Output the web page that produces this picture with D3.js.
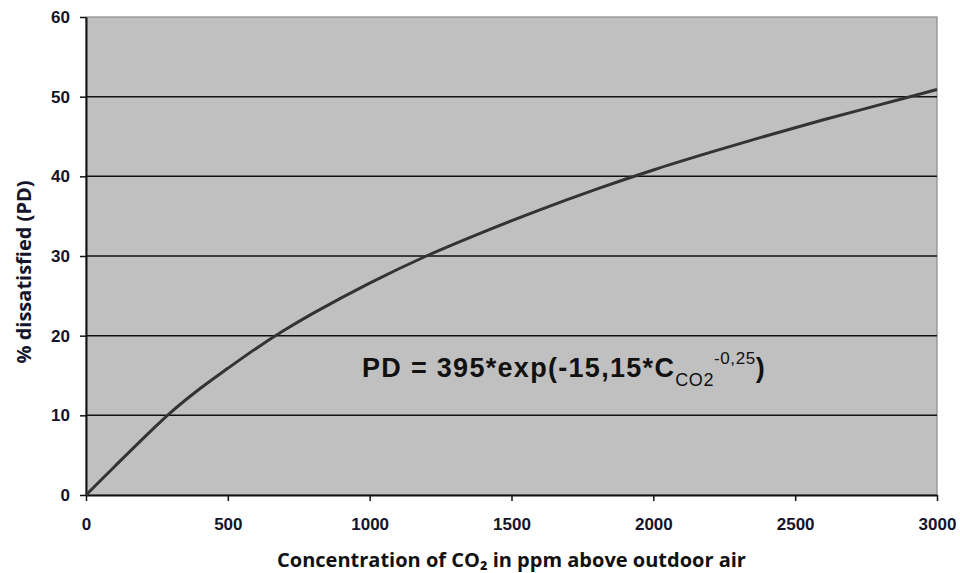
<!DOCTYPE html>
<html>
<head>
<meta charset="utf-8">
<script src="https://cdn.jsdelivr.net/npm/d3@7"></script>
<style>
  body { margin: 0; background: #fff; }
  svg { display: block; }
</style>
</head>
<body>
<div id="chart"></div>
<script>
// --------------------------------------
//  Data
// --------------------------------------

const co2 = [0, 100, 200, 300, 400, 500, 600, 700, 800, 1000, 1200, 1400, 1600, 1800, 2000, 2200, 2400, 2600, 2800, 3000];
const pd  = [0, 3.55, 7.05, 10.4, 13.3, 15.9, 18.4, 20.7, 22.8, 26.6, 30.0, 33.0, 35.8, 38.4, 40.8, 43.0, 45.1, 47.1, 49.0, 50.9];

const xTicks = [0, 500, 1000, 1500, 2000, 2500, 3000];
const yTicks = [0, 10, 20, 30, 40, 50, 60];

const xTitle = "Concentration of CO\u2082 in ppm above outdoor air";
const yTitle = "% dissatisfied (PD)";

// --------------------------------------
//  Margin and canvas
// --------------------------------------

const width = 960;
const height = 573;
const margin = {top: 17, right: 23, bottom: 78, left: 86};
const innerwidth = width - margin.left - margin.right;
const innerheight = height - margin.top - margin.bottom;

const svg = d3.select("#chart")
  .append("svg")
    .attr("width", width)
    .attr("height", height);

const innerChart = svg.append("g")
    .attr("transform", `translate(${margin.left}, ${margin.top})`);

// --------------------------------------
//  Scales
// --------------------------------------

const x = d3.scaleLinear().domain([0, 3000]).range([0, innerwidth]);
const y = d3.scaleLinear().domain([0, 60]).range([innerheight, 0]);

// plot background
innerChart.append("rect")
    .attr("width", innerwidth)
    .attr("height", innerheight)
    .attr("fill", "#c0c0c0")
    .attr("stroke", "#8a8a8a")
    .attr("stroke-width", 1.2);

// gridlines
innerChart.append("g")
  .selectAll("line")
  .data(yTicks.filter(d => d > 0 && d < 60))
  .join("line")
    .attr("x1", 0)
    .attr("x2", innerwidth)
    .attr("y1", d => y(d))
    .attr("y2", d => y(d))
    .attr("stroke", "#111")
    .attr("stroke-width", 1.5);

// --------------------------------------
//  Axes
// --------------------------------------

const xAxis = innerChart.append("g")
    .attr("transform", `translate(0, ${innerheight})`)
    .call(d3.axisBottom(x)
      .tickValues(xTicks)
      .tickFormat(d3.format("d"))
      .tickSize(6)
      .tickPadding(17)
      .tickSizeOuter(0));

const yAxis = innerChart.append("g")
    .call(d3.axisLeft(y)
      .tickValues(yTicks)
      .tickSize(6)
      .tickPadding(10)
      .tickSizeOuter(0));

[xAxis, yAxis].forEach(a => {
  a.select(".domain").attr("stroke", "#111").attr("stroke-width", 2);
  a.selectAll(".tick line").attr("stroke", "#111").attr("stroke-width", 1.5);
  a.selectAll(".tick text")
    .attr("fill", "#14142a")
    .style("font-family", "'Liberation Sans', Arial, sans-serif")
    .style("font-size", "17px")
    .style("font-weight", "bold");
});

// --------------------------------------
//  Curve
// --------------------------------------

const line = d3.line()
    .x((d, i) => x(co2[i]))
    .y(d => y(d))
    .curve(d3.curveCatmullRom.alpha(0.5));

innerChart.append("path")
    .datum(pd)
    .attr("d", line)
    .attr("fill", "none")
    .attr("stroke", "#333")
    .attr("stroke-width", 3);

// --------------------------------------
//  Equation label
// --------------------------------------

const eq = svg.append("text")
    .attr("x", 362)
    .attr("y", 377)
    .attr("fill", "#111")
    .style("font-family", "'Liberation Sans', Arial, sans-serif")
    .style("font-size", "27px")
    .style("font-weight", "bold");

eq.append("tspan").style("letter-spacing", "1.3px").text("PD = 395*exp(-15,15*C");
eq.append("tspan").attr("dy", 9).style("font-size", "18px").style("font-weight", "normal").style("letter-spacing", "0.6px").text("CO2");
eq.append("tspan").attr("dy", -22).style("font-size", "17px").style("font-weight", "normal").style("letter-spacing", "0.6px").text("-0,25");
eq.append("tspan").attr("dy", 13).text(")");

// --------------------------------------
//  Titles
// --------------------------------------

svg.append("text")
    .attr("x", margin.left + innerwidth / 2)
    .attr("y", 567)
    .attr("text-anchor", "middle")
    .attr("fill", "#111")
    .style("font-family", "'Open Sans', sans-serif")
    .style("font-size", "20px")
    .style("font-weight", "bold")
    .text(xTitle);

svg.append("text")
    .attr("transform", "translate(31, 272) rotate(-90)")
    .attr("text-anchor", "middle")
    .attr("fill", "#14142a")
    .style("font-family", "'Open Sans', sans-serif")
    .style("font-size", "20px")
    .style("font-weight", "bold")
    .text(yTitle);
</script>
</body>
</html>
